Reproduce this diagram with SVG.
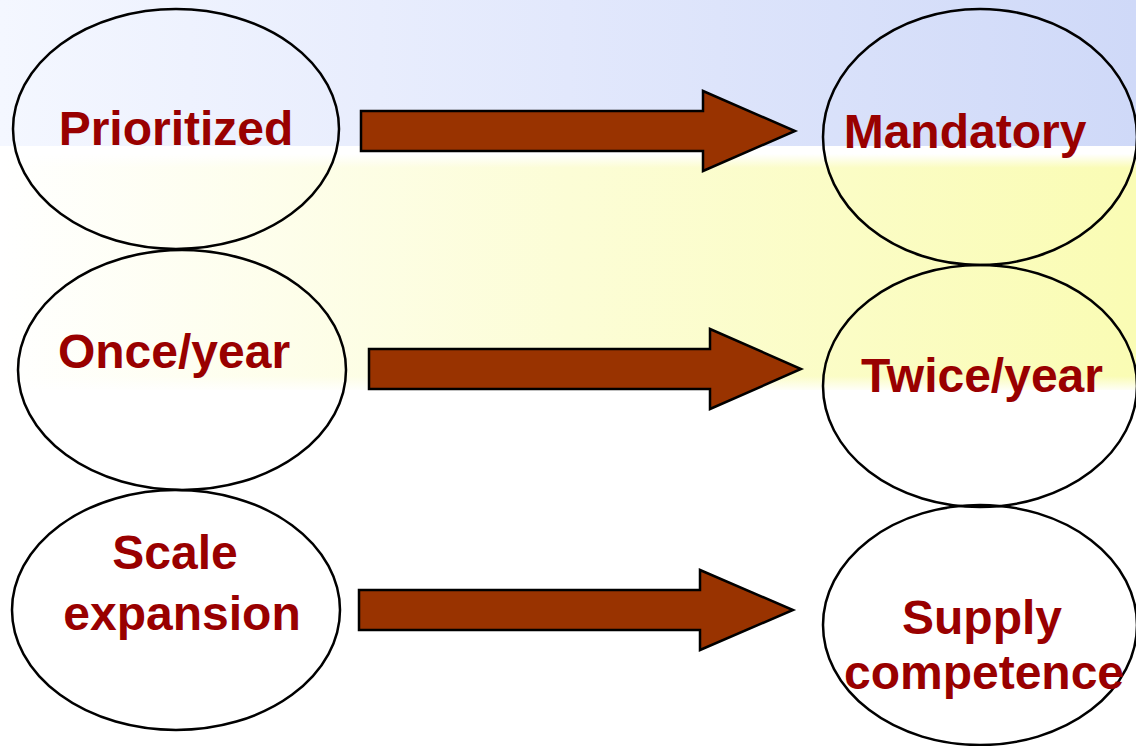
<svg xmlns="http://www.w3.org/2000/svg" width="1136" height="746" viewBox="0 0 1136 746">
<defs>
<linearGradient id="gBlue" x1="0" y1="0" x2="1" y2="0">
<stop offset="0" stop-color="#f4f7ff"/>
<stop offset="0.5" stop-color="#e2e8fc"/>
<stop offset="1" stop-color="#cfd9f8"/>
</linearGradient>
<linearGradient id="gYellow" x1="0" y1="0" x2="1" y2="0">
<stop offset="0" stop-color="#ffffff"/>
<stop offset="0.5" stop-color="#fcfdd6"/>
<stop offset="1" stop-color="#fafcb4"/>
</linearGradient>
<linearGradient id="gFadeTop" x1="0" y1="0" x2="0" y2="1">
<stop offset="0" stop-color="#ffffff" stop-opacity="1"/>
<stop offset="1" stop-color="#ffffff" stop-opacity="0"/>
</linearGradient>
<linearGradient id="gFadeBot" x1="0" y1="0" x2="0" y2="1">
<stop offset="0" stop-color="#ffffff" stop-opacity="0"/>
<stop offset="1" stop-color="#ffffff" stop-opacity="1"/>
</linearGradient>
</defs>
<style>
.node ellipse{fill:none;stroke:#000;stroke-width:2.5}
.lbl{font-family:"Liberation Sans",Arial,sans-serif;font-weight:bold;font-size:48px;fill:#990000;text-anchor:middle}
.arrow{fill:#993300;stroke:#000;stroke-width:2.5;stroke-linejoin:miter}
</style>
<rect x="0" y="0" width="1136" height="746" fill="#ffffff"/>
<rect x="0" y="0" width="1136" height="146" fill="url(#gBlue)"/>
<rect x="0" y="154" width="1136" height="236" fill="url(#gYellow)"/>
<rect x="0" y="154" width="1136" height="14" fill="url(#gFadeTop)"/>
<rect x="0" y="376" width="1136" height="16" fill="url(#gFadeBot)"/>

<g id="connectors">
<polygon class="arrow" points="361,111 703,111 703,91 795,131 703,171 703,151 361,151"/>
<polygon class="arrow" points="369,349 710,349 710,329 801,369 710,409 710,389 369,389"/>
<polygon class="arrow" points="359,590 700,590 700,570 793,610 700,650 700,630 359,630"/>
</g>

<g id="n-prioritized" class="node">
<ellipse cx="176" cy="129" rx="163" ry="120"/>
<text class="lbl" x="176" y="145">Prioritized</text>
</g>
<g id="n-onceyear" class="node">
<ellipse cx="182" cy="370" rx="164" ry="120"/>
<text class="lbl" x="174" y="368">Once/year</text>
</g>
<g id="n-scale" class="node">
<ellipse cx="176" cy="610" rx="164" ry="120"/>
<text class="lbl" x="175" y="569">Scale</text>
<text class="lbl" x="182" y="630">expansion</text>
</g>
<g id="n-mandatory" class="node">
<ellipse cx="980" cy="137" rx="157" ry="128"/>
<text class="lbl" x="965" y="148">Mandatory</text>
</g>
<g id="n-twiceyear" class="node">
<ellipse cx="980" cy="386" rx="157" ry="121"/>
<text class="lbl" x="982" y="392">Twice/year</text>
</g>
<g id="n-supply" class="node">
<ellipse cx="980" cy="625" rx="157" ry="120"/>
<text class="lbl" x="982" y="634">Supply</text>
<text class="lbl" x="984" y="689">competence</text>
</g>
</svg>
